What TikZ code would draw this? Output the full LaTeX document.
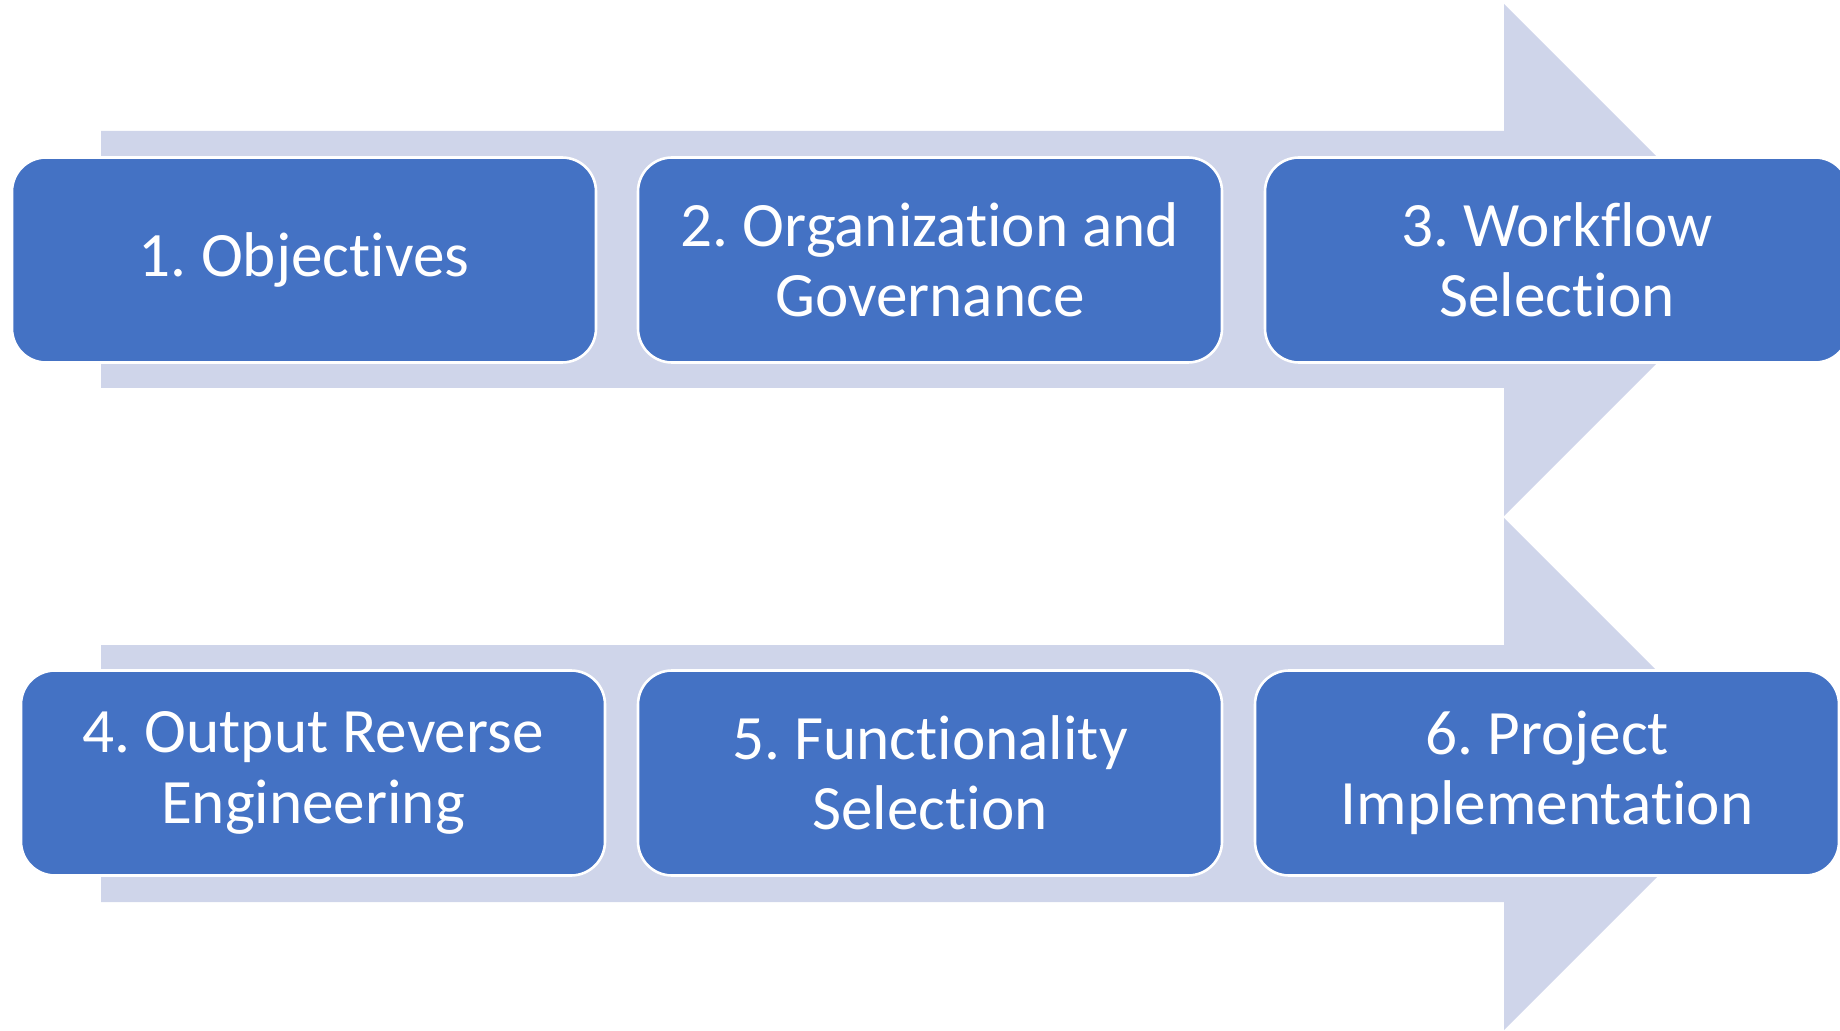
\documentclass[tikz,border=0pt]{standalone}
\usepackage{fontspec}
\setmainfont{Carlito}[Ligatures=NoCommon]
\frenchspacing
\usepackage{tikz}
\definecolor{stepblue}{HTML}{4472C4}
\definecolor{arrowback}{HTML}{CFD5EA}
\tikzset{stepbox/.style = {draw=white, line width=1.3pt, fill=stepblue, text=white,
                           rounded corners=17pt, align=center,
                           minimum width=292pt, minimum height=102.5pt,
                           font=\fontsize{31.6pt}{35.2pt}\selectfont}}
\tikzset{backarrow/.style = {fill=arrowback}}

\begin{document}
\begin{tikzpicture}[x=0.5pt, y=-0.5pt]
      \useasboundingbox (0, 0) rectangle (1840, 1031);
      \clip (0, 0) rectangle (1840, 1031);
      % background arrows
      \fill [backarrow] (101, 131) -- (1504, 131) -- (1504, 4) -- (1760, 260)
            -- (1504, 516) -- (1504, 388) -- (101, 388) -- cycle;
      \fill [backarrow] (101, 645) -- (1504, 645) -- (1504, 518) -- (1760, 774)
            -- (1504, 1030) -- (1504, 902) -- (101, 902) -- cycle;
      % steps
      \node [stepbox] (obj) at (304, 260) {1. Objectives};
      \node [stepbox] (org) at (930, 260) {2. Organization and\\Governance};
      \node [stepbox] (wfl) at (1557, 260) {3. Workflow\\Selection};
      \node [stepbox] (out) at (313, 773) {4. Output Reverse\\Engineering};
      \node [stepbox] (fun) at (930, 773) {5. Functionality\\Selection};
      \node [stepbox] (imp) at (1547, 773) {6. Project\\Implementation};
    \end{tikzpicture}
\end{document}
